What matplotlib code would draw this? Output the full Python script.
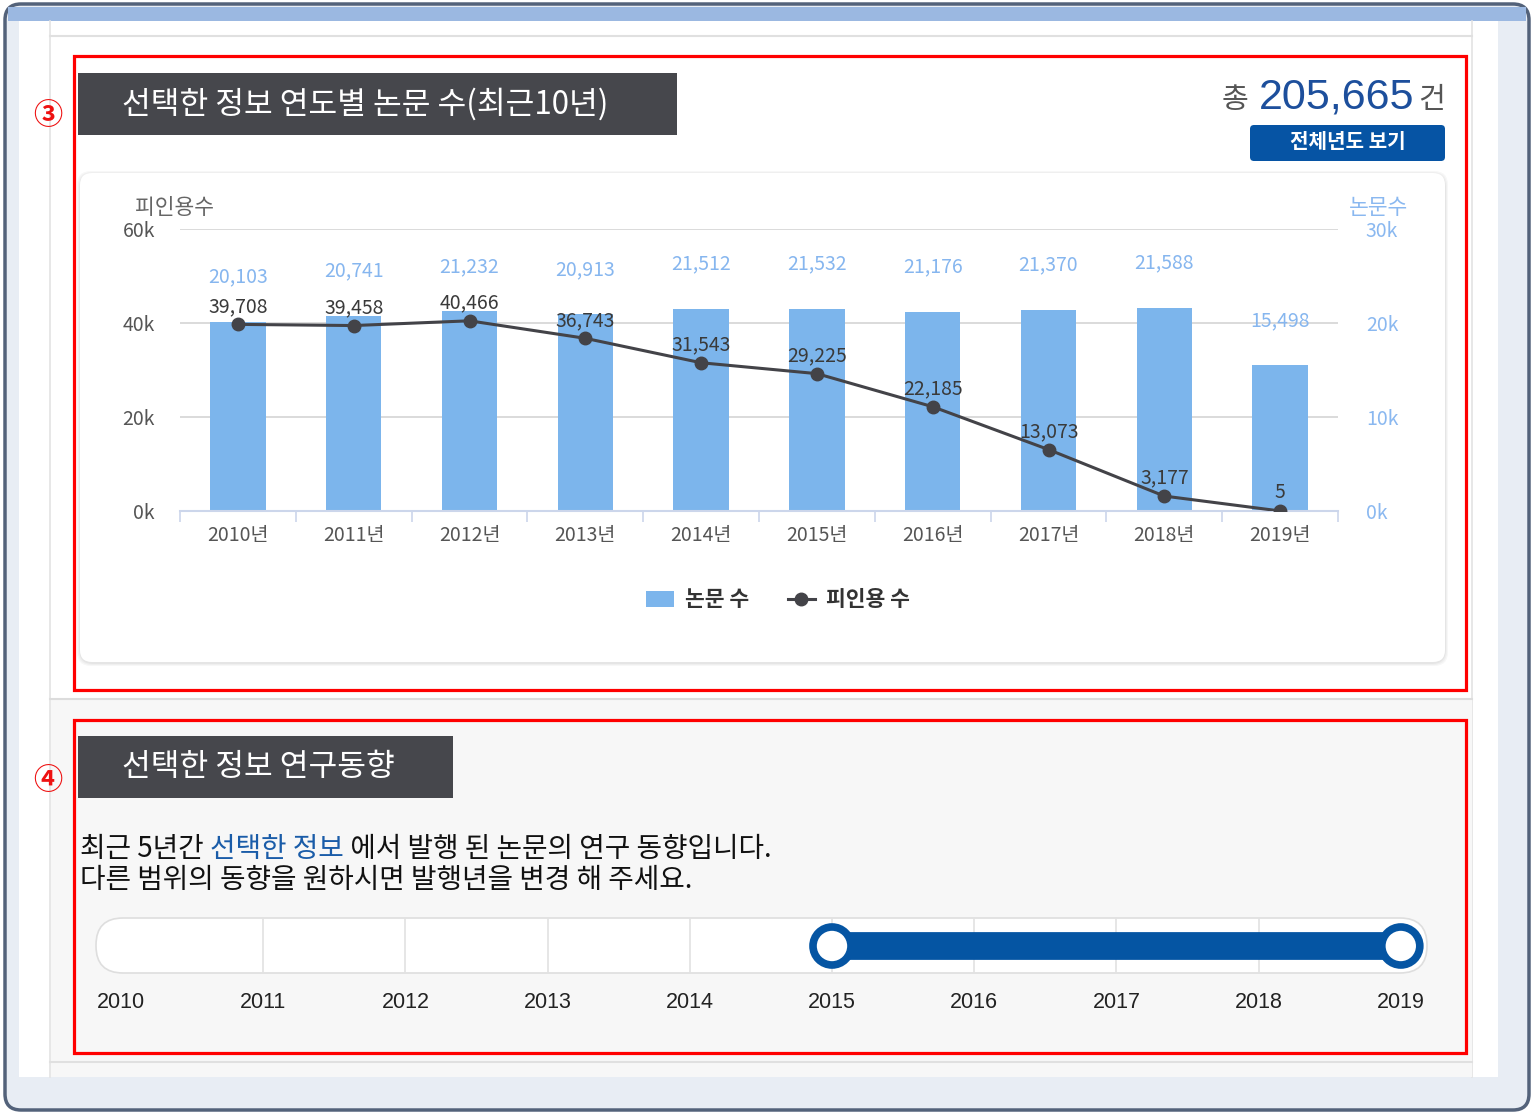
import numpy as np
import matplotlib
matplotlib.use("Agg")
import matplotlib.pyplot as plt
from matplotlib.patches import Rectangle, FancyBboxPatch, Circle

plt.rcParams['font.family'] = ['Noto Sans CJK KR', 'DejaVu Sans']

# ---------------- data ----------------
year_labels = ['2010년', '2011년', '2012년', '2013년', '2014년',
               '2015년', '2016년', '2017년', '2018년', '2019년']
papers = [20103, 20741, 21232, 20913, 21512, 21532, 21176, 21370, 21588, 15498]
citations = [39708, 39458, 40466, 36743, 31543, 29225, 22185, 13073, 3177, 5]
left_ticks = [0, 20000, 40000, 60000]
right_ticks = [0, 10000, 20000, 30000]
slider_years = [2010, 2011, 2012, 2013, 2014, 2015, 2016, 2017, 2018, 2019]
range_start, range_end = 2015, 2019
total_count = '205,665'

W, H = 1534, 1114
fig = plt.figure(figsize=(W / 100, H / 100), dpi=100)
fig.patch.set_facecolor('white')

bg = fig.add_axes([0, 0, 1, 1])
bg.set_xlim(0, W)
bg.set_ylim(H, 0)
bg.axis('off')

def rect(x0, y0, x1, y1, **kw):
    bg.add_patch(Rectangle((x0, y0), x1 - x0, y1 - y0, **kw))

# ---------------- window frame ----------------
bg.add_patch(FancyBboxPatch((5, 4), W - 10, H - 8,
                            boxstyle="round,pad=0,rounding_size=16",
                            facecolor='#e8edf4', edgecolor='#53627a', lw=2.5, zorder=0))
rect(8, 7, W - 8, 21, facecolor='#9bb8e1', edgecolor='none', zorder=0.5)
rect(19, 21, 1498, 1077, facecolor='white', edgecolor='none', zorder=0.6)
bg.plot([50, 50], [21, 1077], color='#e3e3e3', lw=1.2, zorder=0.7)
bg.plot([1472, 1472], [21, 1077], color='#e3e3e3', lw=1.2, zorder=0.7)
bg.plot([50, 1472], [36, 36], color='#e0e0e0', lw=1.5, zorder=0.7)
rect(51, 699, 1472, 1077, facecolor='#f7f7f7', edgecolor='none', zorder=0.7)
bg.plot([50, 1472], [699, 699], color='#dcdcdc', lw=1.5, zorder=0.8)
bg.plot([50, 1472], [1062, 1062], color='#e0e0e0', lw=1.5, zorder=0.8)

# ---------------- section 1 ----------------
rect(78, 73, 677, 135, facecolor='#46474c', edgecolor='none', zorder=1)
bg.text(122, 104, '선택한 정보 연도별 논문 수(최근10년)', color='white',
        fontsize=22.5, va='center', ha='left', zorder=2)
bg.text(48, 115, '③', color='#ee1111', fontsize=21, fontweight='bold',
        va='center', ha='center', zorder=2)

bg.text(1445, 100, '건', color='#555555', fontsize=21, va='center', ha='right', zorder=2)
bg.text(1414, 98, total_count, color='#1d4f9c', fontsize=31, va='center', ha='right',
        family=['Liberation Sans', 'DejaVu Sans'], zorder=2)
bg.text(1248, 100, '총', color='#555555', fontsize=21, va='center', ha='right', zorder=2)
bg.add_patch(FancyBboxPatch((1250, 125), 195, 36,
                            boxstyle="round,pad=0,rounding_size=4",
                            facecolor='#0654a4', edgecolor='none', zorder=1))
bg.text(1348, 142, '전체년도 보기', color='white', fontsize=14.5, fontweight='bold',
        va='center', ha='center', zorder=2)

# chart panel with shadow
for i, a in enumerate([0.03, 0.03, 0.04]):
    d = 3 - i
    bg.add_patch(FancyBboxPatch((80 - d, 173 - d + 1), 1365 + 2 * d, 489 + 2 * d,
                                boxstyle="round,pad=0,rounding_size=14",
                                facecolor='black', alpha=a, edgecolor='none', zorder=1))
bg.add_patch(FancyBboxPatch((80, 173), 1365, 489,
                            boxstyle="round,pad=0,rounding_size=12",
                            facecolor='white', edgecolor='none', zorder=1.1))

# red highlight boxes
rect(74, 56, 1466, 690, facecolor='none', edgecolor='#ff0000', lw=2.3, zorder=5)
rect(74, 720, 1466, 1053, facecolor='none', edgecolor='#ff0000', lw=2.3, zorder=5)

# axis titles
bg.text(175, 208, '피인용수', color='#666666', fontsize=15.5, va='center', ha='center', zorder=2)
bg.text(1378, 208, '논문수', color='#8ab8f0', fontsize=15.5, va='center', ha='center', zorder=2)

# ---------------- chart ----------------
ax_l, ax_r, ax_t, ax_b = 180, 1338, 229, 511
ax = fig.add_axes([ax_l / W, 1 - ax_b / H, (ax_r - ax_l) / W, (ax_b - ax_t) / H])
ax2 = ax.twinx()
ax.set_zorder(ax2.get_zorder() + 1)
ax.patch.set_visible(False)
ax2.patch.set_visible(False)

x = np.arange(len(year_labels))
bars = ax2.bar(x, papers, width=0.48, color='#7cb5ec', zorder=2)
line, = ax.plot(x, citations, color='#434348', lw=2.2, marker='o', ms=9, zorder=3)

ax.set_xlim(-0.5, len(x) - 0.5)
ax.set_ylim(0, 60000)
ax2.set_ylim(0, 30000)

ax2.set_axisbelow(True)
ax2.set_yticks(right_ticks)
ax2.yaxis.grid(True, color='#d4d4d4', lw=1.2)
ax2.set_yticklabels([f'{v // 1000}k' for v in right_ticks])
ax2.tick_params(axis='y', length=0, pad=20, labelsize=14, labelcolor='#8ab8f0')

ax.set_yticks(left_ticks)
ax.set_yticklabels([f'{v // 1000}k' for v in left_ticks])
ax.tick_params(axis='y', length=0, pad=18, labelsize=14, labelcolor='#555555')

ax.set_xticks(x)
ax.set_xticklabels(year_labels)
ax.tick_params(axis='x', which='major', length=0, pad=10, labelsize=14, labelcolor='#555555')
ax.set_xticks(np.arange(-0.5, len(x), 1), minor=True)
ax.tick_params(axis='x', which='minor', length=8, width=1.2, color='#ccd6eb')

for s in ['top', 'left', 'right']:
    ax.spines[s].set_visible(False)
ax.spines['bottom'].set_color('#ccd6eb')
ax.spines['bottom'].set_linewidth(1.5)
for s in ax2.spines.values():
    s.set_visible(False)

for xi, v in zip(x, papers):
    ax2.annotate(f'{v:,}', (xi, v), xytext=(0, 45), textcoords='offset pixels',
                 ha='center', va='center', fontsize=14, color='#86b6ef')
for xi, v in zip(x, citations):
    ax.annotate(f'{v:,}', (xi, v), xytext=(0, 18), textcoords='offset pixels',
                ha='center', va='center', fontsize=14, color='#3a3a3a')

leg = ax.legend([bars, line], ['논문 수', '피인용 수'], loc='center',
                bbox_to_anchor=(778 / W, 1 - 600 / H), bbox_transform=fig.transFigure,
                ncol=2, frameon=False, handlelength=1.3, handletextpad=0.5,
                columnspacing=1.8, prop={'size': 15.5, 'weight': 'bold'})
for t in leg.get_texts():
    t.set_color('#333333')

# ---------------- section 2 ----------------
rect(78, 736, 453, 798, facecolor='#46474c', edgecolor='none', zorder=1)
bg.text(122, 767, '선택한 정보 연구동향', color='white', fontsize=22.5,
        va='center', ha='left', zorder=2)
bg.text(48, 780, '④', color='#ee1111', fontsize=21, fontweight='bold',
        va='center', ha='center', zorder=2)

fs_body = 20
t1 = bg.text(80, 849, '최근 5년간 ', color='#111111', fontsize=fs_body, va='center', ha='left', zorder=2)
fig.canvas.draw()
r = fig.canvas.get_renderer()
def right_edge(t):
    bb = t.get_window_extent(renderer=r)
    return bg.transData.inverted().transform((bb.x1, bb.y0))[0]
t2 = bg.text(right_edge(t1), 849, '선택한 정보', color='#1a5ca8', fontsize=fs_body,
             va='center', ha='left', zorder=2)
bg.text(right_edge(t2), 849, ' 에서 발행 된 논문의 연구 동향입니다.', color='#111111',
        fontsize=fs_body, va='center', ha='left', zorder=2)
bg.text(80, 880, '다른 범위의 동향을 원하시면 발행년을 변경 해 주세요.', color='#111111',
        fontsize=fs_body, va='center', ha='left', zorder=2)

# slider
x0_px, step_px = 121, 142.2
def sx(year):
    return x0_px + (year - slider_years[0]) * step_px
bg.add_patch(FancyBboxPatch((96, 918), 1331, 55,
                            boxstyle="round,pad=0,rounding_size=27",
                            facecolor='white', edgecolor='#dedede', lw=1.2, zorder=1))
for yv in slider_years[1:-1]:
    bg.plot([sx(yv), sx(yv)], [919, 972], color='#e2e2e2', lw=1.2, zorder=1.2)
bg.plot([sx(range_start), sx(range_end)], [946, 946], color='#0555a3', lw=20,
        solid_capstyle='butt', zorder=2)
for yv in (range_start, range_end):
    bg.add_patch(Circle((sx(yv), 946), 19, facecolor='white', edgecolor='#0555a3',
                        lw=5.5, zorder=3))
for yv in slider_years:
    bg.text(sx(yv), 1003, str(yv), color='#222222', fontsize=15.5,
            family=['Liberation Sans', 'DejaVu Sans'], va='center', ha='center', zorder=2)

fig.savefig('out.png', dpi=100, facecolor=fig.get_facecolor())
